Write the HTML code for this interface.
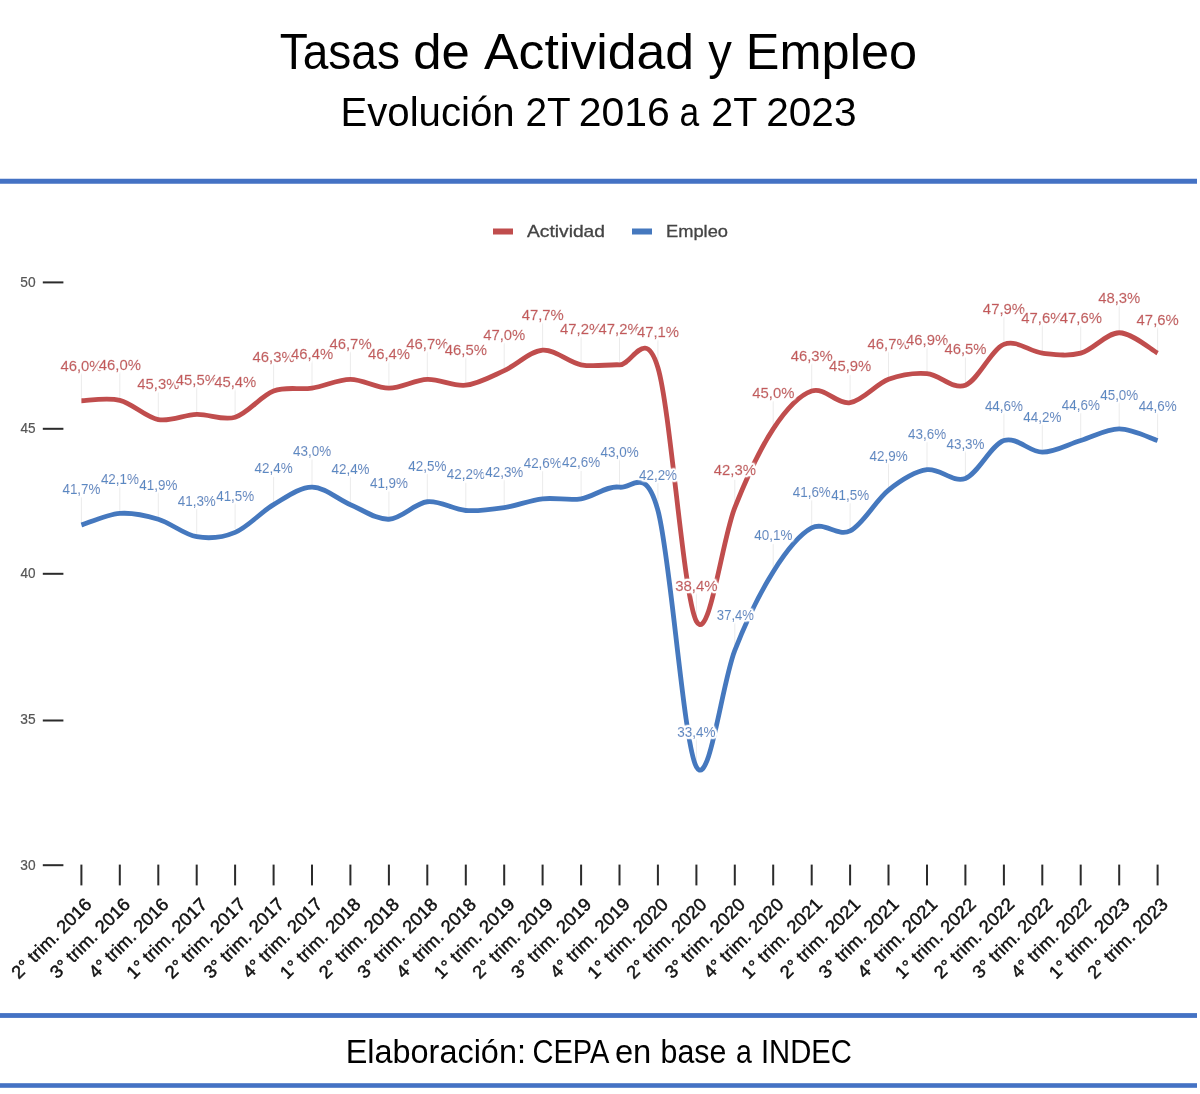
<!DOCTYPE html>
<html lang="es"><head><meta charset="utf-8"><title>Tasas de Actividad y Empleo</title>
<style>
html,body{margin:0;padding:0;background:#fff;}
body{width:1200px;height:1094px;overflow:hidden;font-family:"Liberation Sans",sans-serif;}
svg{display:block;}
text{font-family:"Liberation Sans",sans-serif;}
.hd{fill:#000;}
.dl{filter:url(#halo);}
.ax{font-size:14.3px;fill:#555;stroke:#555;stroke-width:0.2px;}
.xl{font-size:18px;fill:#111;text-anchor:end;stroke:#111;stroke-width:0.45px;}
.lg{font-size:16.6px;fill:#444;stroke:#444;stroke-width:0.3px;}
#chart{}
</style></head><body>
<svg width="1200" height="1094" viewBox="0 0 1200 1094">
<defs><filter id="halo" x="-15%" y="-30%" width="130%" height="160%"><feMorphology in="SourceAlpha" operator="dilate" radius="1"/><feGaussianBlur stdDeviation="1.0"/><feComponentTransfer result="d"><feFuncA type="linear" slope="3"/></feComponentTransfer><feFlood flood-color="#fff"/><feComposite in2="d" operator="in" result="h"/><feMerge><feMergeNode in="h"/><feMergeNode in="SourceGraphic"/></feMerge></filter></defs>
<rect width="1200" height="1094" fill="#fff"/>
<text id="title" class="hd" y="69.2" font-size="50.4"><tspan x="279.77" textLength="120.20" lengthAdjust="spacingAndGlyphs">Tasas</tspan> <tspan x="413.16" textLength="56.60" lengthAdjust="spacingAndGlyphs">de</tspan> <tspan x="484.10" textLength="210.04" lengthAdjust="spacingAndGlyphs">Actividad</tspan> <tspan x="708.18" textLength="23.61" lengthAdjust="spacingAndGlyphs">y</tspan> <tspan x="745.86" textLength="171.26" lengthAdjust="spacingAndGlyphs">Empleo</tspan></text>
<text id="sub" class="hd" y="125.8" font-size="41.1"><tspan x="340.51" textLength="174.10" lengthAdjust="spacingAndGlyphs">Evolución</tspan> <tspan x="525.58" textLength="44.49" lengthAdjust="spacingAndGlyphs">2T</tspan> <tspan x="578.74" textLength="91.06" lengthAdjust="spacingAndGlyphs">2016</tspan> <tspan x="679.57" textLength="19.66" lengthAdjust="spacingAndGlyphs">a</tspan> <tspan x="711.35" textLength="45.35" lengthAdjust="spacingAndGlyphs">2T</tspan> <tspan x="766.26" textLength="90.22" lengthAdjust="spacingAndGlyphs">2023</tspan></text>
<rect x="0" y="178.75" width="1197" height="5" fill="#4472c4"/>
<rect x="0" y="1013.1" width="1197" height="4.8" fill="#4472c4"/>
<rect x="0" y="1083.2" width="1197" height="4.6" fill="#4472c4"/>
<text id="foot" class="hd" y="1062.8" font-size="33.1"><tspan x="345.64" textLength="180.32" lengthAdjust="spacingAndGlyphs">Elaboración:</tspan> <tspan x="532.45" textLength="75.41" lengthAdjust="spacingAndGlyphs">CEPA</tspan> <tspan x="614.91" textLength="36.42" lengthAdjust="spacingAndGlyphs">en</tspan> <tspan x="660.54" textLength="65.80" lengthAdjust="spacingAndGlyphs">base</tspan> <tspan x="736.08" textLength="15.83" lengthAdjust="spacingAndGlyphs">a</tspan> <tspan x="761.00" textLength="90.91" lengthAdjust="spacingAndGlyphs">INDEC</tspan></text>
<g id="chart">
<rect x="493" y="228.5" width="20" height="6" fill="#c04d4d"/>
<text class="lg" x="527" y="237" textLength="78" lengthAdjust="spacingAndGlyphs">Actividad</text>
<rect x="632" y="228.5" width="20" height="6" fill="#4578be"/>
<text class="lg" x="666" y="237" textLength="62" lengthAdjust="spacingAndGlyphs">Empleo</text>
<text class="ax" x="20.25" y="286.8" textLength="15.29" lengthAdjust="spacingAndGlyphs">50</text>
<rect x="42.8" y="281.4" width="20.6" height="2" fill="#2b2b2b"/>
<text class="ax" x="20.49" y="433.2" textLength="15.08" lengthAdjust="spacingAndGlyphs">45</text>
<rect x="42.8" y="427.8" width="20.6" height="2" fill="#2b2b2b"/>
<text class="ax" x="20.49" y="577.7" textLength="15.04" lengthAdjust="spacingAndGlyphs">40</text>
<rect x="42.8" y="572.8" width="20.6" height="2" fill="#2b2b2b"/>
<text class="ax" x="20.28" y="723.8" textLength="15.30" lengthAdjust="spacingAndGlyphs">35</text>
<rect x="42.8" y="719.5" width="20.6" height="2" fill="#2b2b2b"/>
<text class="ax" x="20.28" y="869.6" textLength="15.26" lengthAdjust="spacingAndGlyphs">30</text>
<rect x="42.8" y="864.2" width="20.6" height="2" fill="#2b2b2b"/>
<rect x="80.4" y="864.6" width="2" height="20.8" fill="#2b2b2b"/>
<rect x="118.8" y="864.6" width="2" height="20.8" fill="#2b2b2b"/>
<rect x="157.3" y="864.6" width="2" height="20.8" fill="#2b2b2b"/>
<rect x="195.7" y="864.6" width="2" height="20.8" fill="#2b2b2b"/>
<rect x="234.1" y="864.6" width="2" height="20.8" fill="#2b2b2b"/>
<rect x="272.6" y="864.6" width="2" height="20.8" fill="#2b2b2b"/>
<rect x="311.0" y="864.6" width="2" height="20.8" fill="#2b2b2b"/>
<rect x="349.4" y="864.6" width="2" height="20.8" fill="#2b2b2b"/>
<rect x="387.9" y="864.6" width="2" height="20.8" fill="#2b2b2b"/>
<rect x="426.3" y="864.6" width="2" height="20.8" fill="#2b2b2b"/>
<rect x="464.8" y="864.6" width="2" height="20.8" fill="#2b2b2b"/>
<rect x="503.2" y="864.6" width="2" height="20.8" fill="#2b2b2b"/>
<rect x="541.6" y="864.6" width="2" height="20.8" fill="#2b2b2b"/>
<rect x="580.1" y="864.6" width="2" height="20.8" fill="#2b2b2b"/>
<rect x="618.5" y="864.6" width="2" height="20.8" fill="#2b2b2b"/>
<rect x="656.9" y="864.6" width="2" height="20.8" fill="#2b2b2b"/>
<rect x="695.4" y="864.6" width="2" height="20.8" fill="#2b2b2b"/>
<rect x="733.8" y="864.6" width="2" height="20.8" fill="#2b2b2b"/>
<rect x="772.2" y="864.6" width="2" height="20.8" fill="#2b2b2b"/>
<rect x="810.7" y="864.6" width="2" height="20.8" fill="#2b2b2b"/>
<rect x="849.1" y="864.6" width="2" height="20.8" fill="#2b2b2b"/>
<rect x="887.5" y="864.6" width="2" height="20.8" fill="#2b2b2b"/>
<rect x="926.0" y="864.6" width="2" height="20.8" fill="#2b2b2b"/>
<rect x="964.4" y="864.6" width="2" height="20.8" fill="#2b2b2b"/>
<rect x="1002.9" y="864.6" width="2" height="20.8" fill="#2b2b2b"/>
<rect x="1041.3" y="864.6" width="2" height="20.8" fill="#2b2b2b"/>
<rect x="1079.7" y="864.6" width="2" height="20.8" fill="#2b2b2b"/>
<rect x="1118.2" y="864.6" width="2" height="20.8" fill="#2b2b2b"/>
<rect x="1156.6" y="864.6" width="2" height="20.8" fill="#2b2b2b"/>
<text class="xl" transform="translate(92.3,906.0) rotate(-45)" x="0.81" y="0" textLength="104.94" lengthAdjust="spacingAndGlyphs">2° trim. 2016</text>
<text class="xl" transform="translate(130.7,906.0) rotate(-45)" x="0.81" y="0" textLength="104.71" lengthAdjust="spacingAndGlyphs">3° trim. 2016</text>
<text class="xl" transform="translate(169.2,906.0) rotate(-45)" x="0.81" y="0" textLength="104.43" lengthAdjust="spacingAndGlyphs">4° trim. 2016</text>
<text class="xl" transform="translate(207.6,906.0) rotate(-45)" x="0.93" y="0" textLength="105.55" lengthAdjust="spacingAndGlyphs">1° trim. 2017</text>
<text class="xl" transform="translate(246.0,906.0) rotate(-45)" x="0.93" y="0" textLength="105.06" lengthAdjust="spacingAndGlyphs">2° trim. 2017</text>
<text class="xl" transform="translate(284.5,906.0) rotate(-45)" x="0.93" y="0" textLength="104.83" lengthAdjust="spacingAndGlyphs">3° trim. 2017</text>
<text class="xl" transform="translate(322.9,906.0) rotate(-45)" x="0.93" y="0" textLength="104.55" lengthAdjust="spacingAndGlyphs">4° trim. 2017</text>
<text class="xl" transform="translate(361.3,906.0) rotate(-45)" x="0.81" y="0" textLength="105.42" lengthAdjust="spacingAndGlyphs">1° trim. 2018</text>
<text class="xl" transform="translate(399.8,906.0) rotate(-45)" x="0.80" y="0" textLength="104.93" lengthAdjust="spacingAndGlyphs">2° trim. 2018</text>
<text class="xl" transform="translate(438.2,906.0) rotate(-45)" x="0.80" y="0" textLength="104.70" lengthAdjust="spacingAndGlyphs">3° trim. 2018</text>
<text class="xl" transform="translate(476.7,906.0) rotate(-45)" x="0.80" y="0" textLength="104.42" lengthAdjust="spacingAndGlyphs">4° trim. 2018</text>
<text class="xl" transform="translate(515.1,906.0) rotate(-45)" x="0.88" y="0" textLength="105.49" lengthAdjust="spacingAndGlyphs">1° trim. 2019</text>
<text class="xl" transform="translate(553.5,906.0) rotate(-45)" x="0.88" y="0" textLength="105.01" lengthAdjust="spacingAndGlyphs">2° trim. 2019</text>
<text class="xl" transform="translate(592.0,906.0) rotate(-45)" x="0.87" y="0" textLength="104.78" lengthAdjust="spacingAndGlyphs">3° trim. 2019</text>
<text class="xl" transform="translate(630.4,906.0) rotate(-45)" x="0.87" y="0" textLength="104.49" lengthAdjust="spacingAndGlyphs">4° trim. 2019</text>
<text class="xl" transform="translate(668.8,906.0) rotate(-45)" x="0.72" y="0" textLength="105.34" lengthAdjust="spacingAndGlyphs">1° trim. 2020</text>
<text class="xl" transform="translate(707.3,906.0) rotate(-45)" x="0.72" y="0" textLength="104.85" lengthAdjust="spacingAndGlyphs">2° trim. 2020</text>
<text class="xl" transform="translate(745.7,906.0) rotate(-45)" x="0.72" y="0" textLength="104.62" lengthAdjust="spacingAndGlyphs">3° trim. 2020</text>
<text class="xl" transform="translate(784.1,906.0) rotate(-45)" x="0.72" y="0" textLength="104.34" lengthAdjust="spacingAndGlyphs">4° trim. 2020</text>
<text class="xl" transform="translate(822.6,906.0) rotate(-45)" x="0.91" y="0" textLength="105.52" lengthAdjust="spacingAndGlyphs">1° trim. 2021</text>
<text class="xl" transform="translate(861.0,906.0) rotate(-45)" x="0.90" y="0" textLength="105.03" lengthAdjust="spacingAndGlyphs">2° trim. 2021</text>
<text class="xl" transform="translate(899.4,906.0) rotate(-45)" x="0.90" y="0" textLength="104.80" lengthAdjust="spacingAndGlyphs">3° trim. 2021</text>
<text class="xl" transform="translate(937.9,906.0) rotate(-45)" x="0.90" y="0" textLength="104.52" lengthAdjust="spacingAndGlyphs">4° trim. 2021</text>
<text class="xl" transform="translate(976.3,906.0) rotate(-45)" x="0.93" y="0" textLength="105.55" lengthAdjust="spacingAndGlyphs">1° trim. 2022</text>
<text class="xl" transform="translate(1014.8,906.0) rotate(-45)" x="0.93" y="0" textLength="105.06" lengthAdjust="spacingAndGlyphs">2° trim. 2022</text>
<text class="xl" transform="translate(1053.2,906.0) rotate(-45)" x="0.93" y="0" textLength="104.83" lengthAdjust="spacingAndGlyphs">3° trim. 2022</text>
<text class="xl" transform="translate(1091.6,906.0) rotate(-45)" x="0.93" y="0" textLength="104.55" lengthAdjust="spacingAndGlyphs">4° trim. 2022</text>
<text class="xl" transform="translate(1130.1,906.0) rotate(-45)" x="0.82" y="0" textLength="105.43" lengthAdjust="spacingAndGlyphs">1° trim. 2023</text>
<text class="xl" transform="translate(1168.5,906.0) rotate(-45)" x="0.81" y="0" textLength="104.94" lengthAdjust="spacingAndGlyphs">2° trim. 2023</text>
<rect x="80.9" y="372.0" width="1" height="25.8" fill="#ebebeb"/>
<rect x="119.3" y="372.0" width="1" height="25.8" fill="#ebebeb"/>
<rect x="157.8" y="392.4" width="1" height="25.8" fill="#ebebeb"/>
<rect x="196.2" y="386.5" width="1" height="25.8" fill="#ebebeb"/>
<rect x="234.6" y="389.4" width="1" height="25.8" fill="#ebebeb"/>
<rect x="273.1" y="363.2" width="1" height="25.8" fill="#ebebeb"/>
<rect x="311.5" y="360.3" width="1" height="25.8" fill="#ebebeb"/>
<rect x="349.9" y="351.6" width="1" height="25.8" fill="#ebebeb"/>
<rect x="388.4" y="360.3" width="1" height="25.8" fill="#ebebeb"/>
<rect x="426.8" y="351.6" width="1" height="25.8" fill="#ebebeb"/>
<rect x="465.3" y="357.4" width="1" height="25.8" fill="#ebebeb"/>
<rect x="503.7" y="342.8" width="1" height="25.8" fill="#ebebeb"/>
<rect x="542.1" y="322.4" width="1" height="25.8" fill="#ebebeb"/>
<rect x="580.6" y="337.0" width="1" height="25.8" fill="#ebebeb"/>
<rect x="619.0" y="337.0" width="1" height="25.8" fill="#ebebeb"/>
<rect x="657.4" y="339.9" width="1" height="25.8" fill="#ebebeb"/>
<rect x="695.9" y="593.4" width="1" height="25.8" fill="#ebebeb"/>
<rect x="734.3" y="479.8" width="1" height="25.8" fill="#ebebeb"/>
<rect x="772.7" y="401.1" width="1" height="25.8" fill="#ebebeb"/>
<rect x="811.2" y="363.2" width="1" height="25.8" fill="#ebebeb"/>
<rect x="849.6" y="374.9" width="1" height="25.8" fill="#ebebeb"/>
<rect x="888.0" y="351.6" width="1" height="25.8" fill="#ebebeb"/>
<rect x="926.5" y="345.7" width="1" height="25.8" fill="#ebebeb"/>
<rect x="964.9" y="357.4" width="1" height="25.8" fill="#ebebeb"/>
<rect x="1003.4" y="316.6" width="1" height="25.8" fill="#ebebeb"/>
<rect x="1041.8" y="325.3" width="1" height="25.8" fill="#ebebeb"/>
<rect x="1080.2" y="325.3" width="1" height="25.8" fill="#ebebeb"/>
<rect x="1118.7" y="304.9" width="1" height="25.8" fill="#ebebeb"/>
<rect x="1157.1" y="325.3" width="1" height="25.8" fill="#ebebeb"/>
<rect x="80.9" y="497.3" width="1" height="25.8" fill="#ebebeb"/>
<rect x="119.3" y="485.6" width="1" height="25.8" fill="#ebebeb"/>
<rect x="157.8" y="491.4" width="1" height="25.8" fill="#ebebeb"/>
<rect x="196.2" y="508.9" width="1" height="25.8" fill="#ebebeb"/>
<rect x="234.6" y="503.1" width="1" height="25.8" fill="#ebebeb"/>
<rect x="273.1" y="476.9" width="1" height="25.8" fill="#ebebeb"/>
<rect x="311.5" y="459.4" width="1" height="25.8" fill="#ebebeb"/>
<rect x="349.9" y="476.9" width="1" height="25.8" fill="#ebebeb"/>
<rect x="388.4" y="491.4" width="1" height="25.8" fill="#ebebeb"/>
<rect x="426.8" y="474.0" width="1" height="25.8" fill="#ebebeb"/>
<rect x="465.3" y="482.7" width="1" height="25.8" fill="#ebebeb"/>
<rect x="503.7" y="479.8" width="1" height="25.8" fill="#ebebeb"/>
<rect x="542.1" y="471.0" width="1" height="25.8" fill="#ebebeb"/>
<rect x="580.6" y="471.0" width="1" height="25.8" fill="#ebebeb"/>
<rect x="619.0" y="459.4" width="1" height="25.8" fill="#ebebeb"/>
<rect x="657.4" y="482.7" width="1" height="25.8" fill="#ebebeb"/>
<rect x="695.9" y="739.1" width="1" height="25.8" fill="#ebebeb"/>
<rect x="734.3" y="622.6" width="1" height="25.8" fill="#ebebeb"/>
<rect x="772.7" y="543.9" width="1" height="25.8" fill="#ebebeb"/>
<rect x="811.2" y="500.2" width="1" height="25.8" fill="#ebebeb"/>
<rect x="849.6" y="503.1" width="1" height="25.8" fill="#ebebeb"/>
<rect x="888.0" y="462.3" width="1" height="25.8" fill="#ebebeb"/>
<rect x="926.5" y="441.9" width="1" height="25.8" fill="#ebebeb"/>
<rect x="964.9" y="450.6" width="1" height="25.8" fill="#ebebeb"/>
<rect x="1003.4" y="412.8" width="1" height="25.8" fill="#ebebeb"/>
<rect x="1041.8" y="424.4" width="1" height="25.8" fill="#ebebeb"/>
<rect x="1080.2" y="412.8" width="1" height="25.8" fill="#ebebeb"/>
<rect x="1118.7" y="401.1" width="1" height="25.8" fill="#ebebeb"/>
<rect x="1157.1" y="412.8" width="1" height="25.8" fill="#ebebeb"/>
<path d="M81.40,400.76C87.81,400.69 107.02,397.23 119.84,400.36C132.65,403.49 145.46,417.23 158.27,419.56C171.08,421.89 183.90,414.72 196.71,414.33C209.52,413.94 222.33,421.13 235.14,417.24C247.95,413.36 260.77,395.87 273.58,391.02C286.39,386.16 299.20,390.05 312.01,388.10C324.83,386.16 337.64,379.36 350.45,379.36C363.26,379.36 376.07,388.10 388.89,388.10C401.70,388.10 414.51,379.85 427.32,379.36C440.13,378.88 452.95,386.65 465.76,385.19C478.57,383.73 491.38,376.45 504.19,370.62C517.00,364.79 529.82,351.19 542.63,350.22C555.44,349.25 568.25,362.36 581.06,364.79C593.88,367.22 606.69,364.31 619.50,364.79C632.31,365.28 645.12,324.97 657.94,367.71C670.75,410.44 683.56,597.91 696.37,621.22C709.18,644.54 722.00,539.63 734.81,507.58C747.62,475.52 760.43,448.33 773.24,428.90C786.05,409.47 798.87,395.39 811.68,391.02C824.49,386.65 837.30,404.62 850.11,402.67C862.93,400.73 875.74,384.22 888.55,379.36C901.36,374.51 914.17,372.56 926.99,373.53C939.80,374.51 952.61,390.05 965.42,385.19C978.23,380.33 991.05,349.74 1003.86,344.39C1016.67,339.05 1029.48,351.68 1042.29,353.14C1055.10,354.59 1067.92,356.54 1080.73,353.14C1093.54,349.74 1106.35,332.74 1119.16,332.74C1131.98,332.74 1151.19,349.74 1157.60,353.14" fill="none" stroke="#c04d4d" stroke-width="4.8" stroke-linecap="butt" stroke-linejoin="round"/>
<path d="M81.40,525.06C87.81,523.12 107.02,514.38 119.84,513.41C132.65,512.43 145.46,515.35 158.27,519.23C171.08,523.12 183.90,534.53 196.71,536.72C209.52,538.91 222.33,537.73 235.14,532.39C247.95,527.05 260.77,512.20 273.58,504.66C286.39,497.13 299.20,487.18 312.01,487.18C324.83,487.18 337.64,499.32 350.45,504.66C363.26,510.01 376.07,519.72 388.89,519.23C401.70,518.75 414.51,503.21 427.32,501.75C440.13,500.29 452.95,509.52 465.76,510.49C478.57,511.46 491.38,509.52 504.19,507.58C517.00,505.64 529.82,500.29 542.63,498.84C555.44,497.38 568.25,500.78 581.06,498.84C593.88,496.89 606.69,485.24 619.50,487.18C632.31,489.12 645.12,463.87 657.94,510.49C670.75,557.12 683.56,743.61 696.37,766.92C709.18,790.24 722.00,682.90 734.81,650.36C747.62,617.82 760.43,592.08 773.24,571.69C786.05,551.29 798.87,534.78 811.68,527.98C824.49,521.18 837.30,537.20 850.11,530.89C862.93,524.58 875.74,500.29 888.55,490.09C901.36,479.90 914.17,471.64 926.99,469.70C939.80,467.75 952.61,483.29 965.42,478.44C978.23,473.58 991.05,444.93 1003.86,440.56C1016.67,436.18 1029.48,452.21 1042.29,452.21C1055.10,452.21 1067.92,444.44 1080.73,440.56C1093.54,436.67 1106.35,428.90 1119.16,428.90C1131.98,428.90 1151.19,438.61 1157.60,440.56" fill="none" stroke="#4578be" stroke-width="4.8" stroke-linecap="butt" stroke-linejoin="round"/>
<g fill="#c4595a" stroke="#c4595a" stroke-width="0.3">
<text class="dl" font-size="15.4" transform="translate(60.41,370.56) scale(0.9658,1)">46,0%</text>
<text class="dl" font-size="15.4" transform="translate(98.84,369.96) scale(0.9658,1)">46,0%</text>
<text class="dl" font-size="15.4" transform="translate(137.28,389.16) scale(0.9658,1)">45,3%</text>
<text class="dl" font-size="15.4" transform="translate(175.72,384.53) scale(0.9658,1)">45,5%</text>
<text class="dl" font-size="15.4" transform="translate(214.15,386.84) scale(0.9658,1)">45,4%</text>
<text class="dl" font-size="15.4" transform="translate(252.59,361.82) scale(0.9658,1)">46,3%</text>
<text class="dl" font-size="15.4" transform="translate(291.02,358.90) scale(0.9658,1)">46,4%</text>
<text class="dl" font-size="15.4" transform="translate(329.46,349.16) scale(0.9658,1)">46,7%</text>
<text class="dl" font-size="15.4" transform="translate(367.89,358.90) scale(0.9658,1)">46,4%</text>
<text class="dl" font-size="15.4" transform="translate(406.33,349.16) scale(0.9658,1)">46,7%</text>
<text class="dl" font-size="15.4" transform="translate(444.77,355.39) scale(0.9658,1)">46,5%</text>
<text class="dl" font-size="15.4" transform="translate(483.20,339.82) scale(0.9658,1)">47,0%</text>
<text class="dl" font-size="15.4" transform="translate(521.64,320.42) scale(0.9658,1)">47,7%</text>
<text class="dl" font-size="15.4" transform="translate(560.07,333.59) scale(0.9658,1)">47,2%</text>
<text class="dl" font-size="15.4" transform="translate(598.51,333.59) scale(0.9658,1)">47,2%</text>
<text class="dl" font-size="15.4" transform="translate(636.94,337.31) scale(0.9658,1)">47,1%</text>
<text class="dl" font-size="15.4" transform="translate(675.15,591.42) scale(0.9711,1)">38,4%</text>
<text class="dl" font-size="15.4" transform="translate(713.82,475.18) scale(0.9658,1)">42,3%</text>
<text class="dl" font-size="15.4" transform="translate(752.25,397.90) scale(0.9658,1)">45,0%</text>
<text class="dl" font-size="15.4" transform="translate(790.69,360.62) scale(0.9658,1)">46,3%</text>
<text class="dl" font-size="15.4" transform="translate(829.12,371.47) scale(0.9658,1)">45,9%</text>
<text class="dl" font-size="15.4" transform="translate(867.56,348.76) scale(0.9658,1)">46,7%</text>
<text class="dl" font-size="15.4" transform="translate(905.99,344.53) scale(0.9658,1)">46,9%</text>
<text class="dl" font-size="15.4" transform="translate(944.43,354.39) scale(0.9658,1)">46,5%</text>
<text class="dl" font-size="15.4" transform="translate(982.87,313.99) scale(0.9658,1)">47,9%</text>
<text class="dl" font-size="15.4" transform="translate(1021.30,322.74) scale(0.9658,1)">47,6%</text>
<text class="dl" font-size="15.4" transform="translate(1059.74,322.74) scale(0.9658,1)">47,6%</text>
<text class="dl" font-size="15.4" transform="translate(1098.17,302.94) scale(0.9658,1)">48,3%</text>
<text class="dl" font-size="15.4" transform="translate(1136.61,325.34) scale(0.9658,1)">47,6%</text>
</g>
<g fill="#5a89c3" stroke="#5a89c3" stroke-width="0.15">
<text class="dl" font-size="13.9" transform="translate(62.44,494.46) scale(0.9664,1)">41,7%</text>
<text class="dl" font-size="13.9" transform="translate(100.88,483.81) scale(0.9664,1)">42,1%</text>
<text class="dl" font-size="13.9" transform="translate(139.31,489.63) scale(0.9664,1)">41,9%</text>
<text class="dl" font-size="13.9" transform="translate(177.75,505.72) scale(0.9664,1)">41,3%</text>
<text class="dl" font-size="13.9" transform="translate(216.18,501.29) scale(0.9664,1)">41,5%</text>
<text class="dl" font-size="13.9" transform="translate(254.62,472.76) scale(0.9664,1)">42,4%</text>
<text class="dl" font-size="13.9" transform="translate(293.06,455.78) scale(0.9664,1)">43,0%</text>
<text class="dl" font-size="13.9" transform="translate(331.49,473.66) scale(0.9664,1)">42,4%</text>
<text class="dl" font-size="13.9" transform="translate(369.93,488.23) scale(0.9664,1)">41,9%</text>
<text class="dl" font-size="13.9" transform="translate(408.36,471.35) scale(0.9664,1)">42,5%</text>
<text class="dl" font-size="13.9" transform="translate(446.80,479.49) scale(0.9664,1)">42,2%</text>
<text class="dl" font-size="13.9" transform="translate(485.23,477.18) scale(0.9664,1)">42,3%</text>
<text class="dl" font-size="13.9" transform="translate(523.67,467.84) scale(0.9664,1)">42,6%</text>
<text class="dl" font-size="13.9" transform="translate(562.11,467.44) scale(0.9664,1)">42,6%</text>
<text class="dl" font-size="13.9" transform="translate(600.54,457.18) scale(0.9664,1)">43,0%</text>
<text class="dl" font-size="13.9" transform="translate(638.98,480.09) scale(0.9664,1)">42,2%</text>
<text class="dl" font-size="13.9" transform="translate(677.21,736.92) scale(0.9717,1)">33,4%</text>
<text class="dl" font-size="13.9" transform="translate(716.86,620.36) scale(0.9404,1)">37,4%</text>
<text class="dl" font-size="13.9" transform="translate(754.28,540.09) scale(0.9664,1)">40,1%</text>
<text class="dl" font-size="13.9" transform="translate(792.72,496.98) scale(0.9664,1)">41,6%</text>
<text class="dl" font-size="13.9" transform="translate(831.16,499.89) scale(0.9664,1)">41,5%</text>
<text class="dl" font-size="13.9" transform="translate(869.59,460.69) scale(0.9664,1)">42,9%</text>
<text class="dl" font-size="13.9" transform="translate(908.03,439.10) scale(0.9664,1)">43,6%</text>
<text class="dl" font-size="13.9" transform="translate(946.46,449.04) scale(0.9664,1)">43,3%</text>
<text class="dl" font-size="13.9" transform="translate(984.90,410.56) scale(0.9664,1)">44,6%</text>
<text class="dl" font-size="13.9" transform="translate(1023.33,421.61) scale(0.9664,1)">44,2%</text>
<text class="dl" font-size="13.9" transform="translate(1061.77,409.96) scale(0.9664,1)">44,6%</text>
<text class="dl" font-size="13.9" transform="translate(1100.21,399.50) scale(0.9664,1)">45,0%</text>
<text class="dl" font-size="13.9" transform="translate(1138.64,410.56) scale(0.9664,1)">44,6%</text>
</g>
</g>
</svg></body></html>
